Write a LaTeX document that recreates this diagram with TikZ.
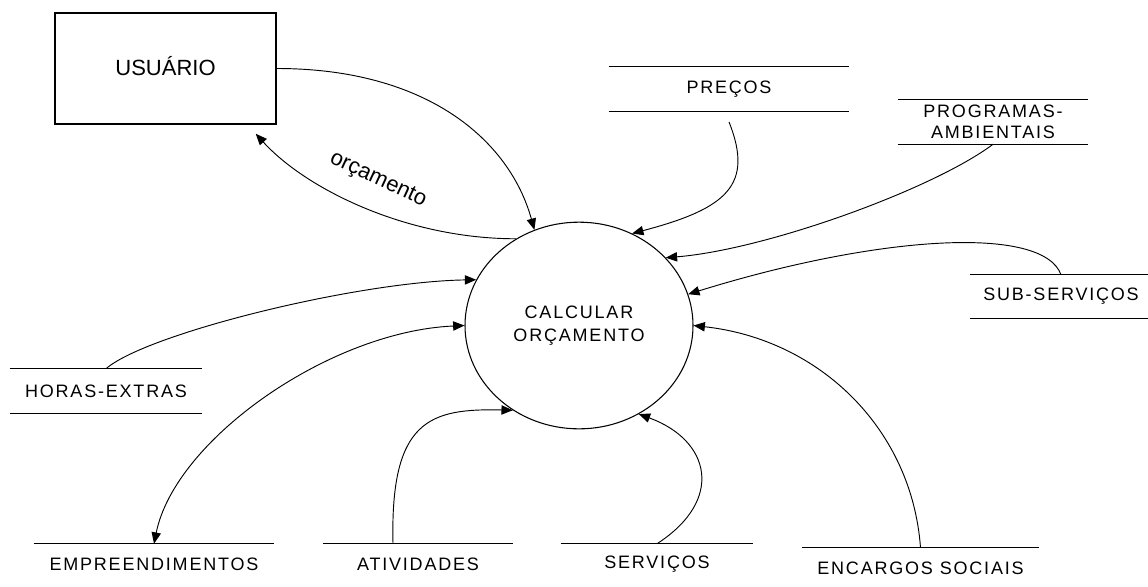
\documentclass[tikz,border=0pt]{standalone}
\usepackage{fontspec}
\setmainfont{Liberation Sans}
\newfontfamily\dfdfont[LetterSpace=10]{Liberation Sans}
\newcommand\storefont{\dfdfont\fontsize{13.5}{15.75}\selectfont}
\newcommand\lblfont{\fontsize{16.5}{20}\selectfont}
\usetikzlibrary{shapes.geometric,arrows.meta}

\begin{document}
\begin{tikzpicture}[x=0.75pt,y=-0.75pt,>={Triangle[length=8.5pt,width=7pt]},
  flow/.style={->,line width=0.7pt},
  store/.style={inner sep=0pt,minimum height=33pt,font=\storefont,align=center,
    append after command={(\tikzlastnode.north west) edge[line width=1.1pt] (\tikzlastnode.north east)
      (\tikzlastnode.south west) edge[line width=1.1pt] (\tikzlastnode.south east)}},
  sink/.style={inner sep=0pt,minimum height=30pt,font=\storefont,
    append after command={(\tikzlastnode.north west) edge[line width=1.1pt] (\tikzlastnode.north east)}}]

\useasboundingbox (0,0) rectangle (1148,586);

% The entity and the process
\node[draw,line width=1.1pt,minimum width=165.75pt,minimum height=83.25pt,
  text height=0.99em,text depth=0pt,font=\lblfont] (usuario) at (165.5,68.5) {USUÁRIO};
\node[ellipse,draw,line width=0.8pt,minimum width=171pt,minimum height=155pt,inner sep=0pt,
  align=center,font=\dfdfont\fontsize{13.5}{17.25}\selectfont] (calc) at (579,325.5) {CALCULAR\\ORÇAMENTO};

% The stores
\node[store,minimum width=180pt] (precos) at (729,89) {PREÇOS};
\node[store,minimum width=142.5pt] (programas) at (993,122) {PROGRAMAS-\\AMBIENTAIS};
\node[store,minimum width=136.5pt,minimum height=32.25pt] (subserv) at (1061,296.5) {SUB-SERVIÇOS};
\node[store,minimum width=144pt] (horas) at (106,391) {HORAS-EXTRAS};
\node[sink,minimum width=180pt] (empre) at (154,564) {EMPREENDIMENTOS};
\node[sink,minimum width=142.5pt] (ativ) at (418,564) {ATIVIDADES};
\node[sink,minimum width=144pt] (serv) at (657,564) {SERVIÇOS};
\node[sink,minimum width=177.75pt] (encargos) at (920.5,568) {ENCARGOS SOCIAIS};

% The flows
\draw[flow] (usuario.east) .. controls +(150,0) and +(-25,-90) .. (calc.115);
\draw[flow] (calc.126) .. controls +(-110,0) and +(50,55) .. ([xshift=-15.75pt,yshift=-6.75pt]usuario.south east);
\node[font=\lblfont,rotate=-25] (orcam) at (378,180) {orçamento};
\draw[flow] ([yshift=-8pt]precos.south) .. controls +(25,63) and +(95,-25) .. (calc.60);
\draw[flow] (programas.south) .. controls +(-60,45) and +(100,-8) .. (calc.38);
\draw[flow] (subserv.north) .. controls +(-18,-50) and +(190,-59) .. (calc.16);
\draw[flow] (horas.north) .. controls +(40,-35) and +(-120,2) .. (calc.156);
\draw[flow,<->] (calc.180) .. controls +(-135,6) and +(21,-104) .. (empre.north);
\draw[flow] ([xshift=-18.75pt]ativ.north) .. controls +(-3,-124) and +(-83,-2) .. (calc.232);
\draw[flow] (serv.north) .. controls +(68,-44) and +(71.5,26) .. (calc.304);
\draw[flow] (encargos.north) .. controls +(-8.5,-118) and +(127,14) .. (calc.0);

\end{tikzpicture}
\end{document}
